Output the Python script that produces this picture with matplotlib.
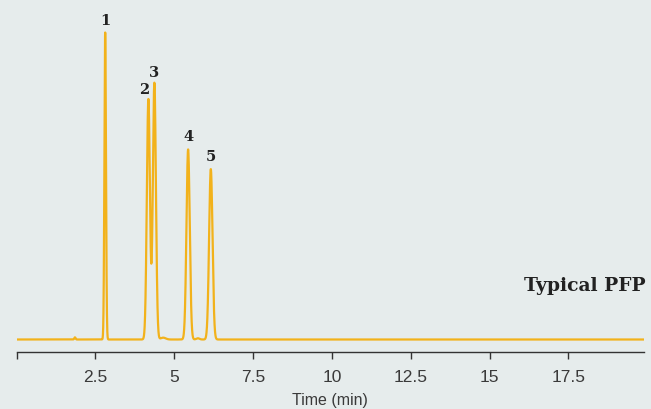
import numpy as np
import matplotlib.pyplot as plt

# picos del cromatograma (tiempo de retencion en min, altura relativa, ancho sigma en min)
picos_tr = [2.81, 4.18, 4.37, 5.44, 6.16]
picos_alto = [100.0, 78.3, 83.6, 61.9, 55.5]
picos_sigma = [0.025, 0.049, 0.049, 0.052, 0.054]
picos_nombre = ["1", "2", "3", "4", "5"]

# perturbaciones pequenas de la linea base
extra_tr = [1.85, 4.65, 5.75]
extra_alto = [0.7, 0.6, 0.4]
extra_sigma = [0.02, 0.08, 0.05]

ticks_x = [0, 2.5, 5, 7.5, 10, 12.5, 15, 17.5]
ticks_txt = ["", "2.5", "5", "7.5", "10", "12.5", "15", "17.5"]

fondo = "#E6ECEC"
naranja = "#F2B21B"
gris = "#333333"

t = np.linspace(0, 19.9, 12000)   # malla de tiempo
senal = np.zeros_like(t)
for tr, h, s in zip(picos_tr + extra_tr, picos_alto + extra_alto,
                    picos_sigma + extra_sigma):
    senal += h * np.exp(-0.5 * ((t - tr) / s) ** 2)   # pico gaussiano

fig = plt.figure(figsize=(6.51, 4.10), dpi=100, facecolor=fondo)
ax = fig.add_axes([16.6 / 651, (410 - 353.3) / 410, (644 - 16.6) / 651, 353.3 / 410])
ax.set_facecolor(fondo)
ax.plot(t, senal, color=naranja, lw=1.6, solid_joinstyle="round")

# numeros sobre cada pico
desplaz = [(0, 12), (-4, 10), (0, 11), (0, 13), (0, 13)]
for tr, h, nom, (dx, dy) in zip(picos_tr, picos_alto, picos_nombre, desplaz):
    ax.annotate(nom, xy=(tr, h), xytext=(dx, dy), textcoords="offset pixels",
                ha="center", va="center", fontsize=10.5, fontweight="bold",
                family="DejaVu Serif", color="#222222")

ax.set_xlim(0, 19.9)
ax.set_ylim(-4.17, 110.9)
for lado in ["left", "top", "right"]:
    ax.spines[lado].set_visible(False)
ax.spines["bottom"].set_color(gris)
ax.spines["bottom"].set_linewidth(1.0)
ax.set_yticks([])
ax.set_xticks(ticks_x)
ax.set_xticklabels(ticks_txt, family="Liberation Sans", fontsize=12.5, color="#3a3a3a")
ax.tick_params(axis="x", length=5, width=1.0, color=gris, pad=7)
ax.set_xlabel("Time (min)", family="Liberation Sans", fontsize=11.5,
              color="#3a3a3a", labelpad=6)

fig.text(646 / 651, 1 - 290.7 / 410, "Typical PFP", ha="right", va="baseline",
         fontsize=13.5, fontweight="bold", family="DejaVu Serif", color="#222222")

plt.savefig("out.png", dpi=100, facecolor=fondo)
